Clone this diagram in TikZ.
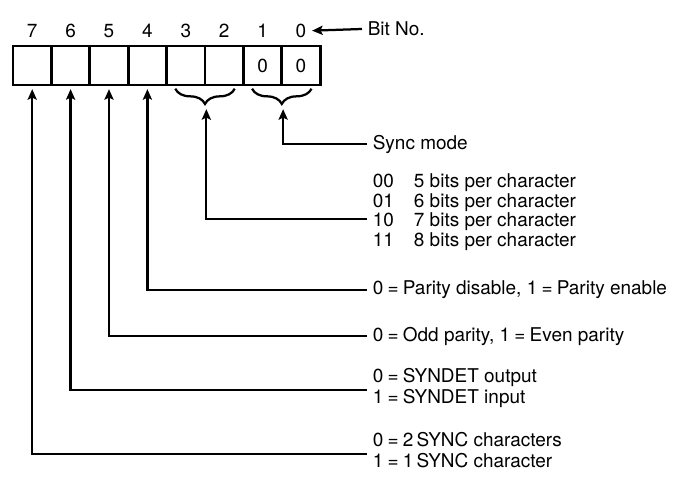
\documentclass[tikz,border=0pt]{standalone}
\usepackage{fontspec}
\setmainfont{TeX Gyre Heros}
\usetikzlibrary{arrows.meta,decorations.pathreplacing,positioning}

\begin{document}
\begin{tikzpicture}[>={Stealth[length=7.5pt,width=6.5pt,inset=1.5pt]}, font=\fontsize{13.5}{14.2}\selectfont, line width=1.6pt,
		cell/.style={draw, line width=1.9pt, minimum width=0.96cm, minimum height=0.975cm, inner sep=0pt},
		desc/.style={anchor=west, align=left},
		brc/.style={decorate, decoration={brace, mirror, amplitude=0.38cm, raise=0.06cm}},
		conn/.style={->, shorten >=2pt}]
		\useasboundingbox (0,0) rectangle (17.15,12.175);
		% register, bit 7 on the left
		\foreach \b in {7,...,0}
			\node[cell] (c\b) at ({0.805+(7-\b)*0.96},10.5375) {};
		\foreach \b in {7,...,0}
			\node (n\b) at ([yshift=0.35cm]c\b.north) {\b};
		\node (v1) at (c1) {0};
		\node (v0) at (c0) {0};
		\node[desc] (bitno) at (9.05,11.45) {Bit No.};
		\draw[->] (bitno.west) -- (n0.east);
		% braces under bits 3-2 and 1-0
		\draw[brc] ([xshift=0.25cm]c3.south west) -- ([xshift=-0.25cm]c2.south east);
		\draw[brc] ([xshift=0.25cm]c1.south west) -- ([xshift=-0.25cm]c0.south east);
		\coordinate (b32) at ([yshift=-0.5cm]c3.south east);
		\coordinate (b10) at ([yshift=-0.5cm]c1.south east);
		% descriptions
		\node[desc] (tsync) at (9.175,8.575) {Sync mode};
		\node[desc] (tchar) at (9.175,6.85) {\begin{tabular}{@{}l@{\hspace{0.5cm}}l@{}}
			00 & 5 bits per character\\
			01 & 6 bits per character\\
			10 & 7 bits per character\\
			11 & 8 bits per character
		\end{tabular}};
		\node[desc] (tpen) at (9.175,4.925) {0\:=\:Parity disable, 1\:=\:Parity enable};
		\node[desc] (tpodd) at (9.175,3.775) {0\:=\:Odd parity, 1\:=\:Even parity};
		\node[desc] (tsyn) at (9.175,2.475) {0\:=\:SYNDET output\\[1pt]1\:=\:SYNDET input};
		\node[desc] (tsc) at (9.175,0.925) {0\:=\:2\,SYNC characters\\[1pt]1\:=\:1\,SYNC character};
		% connectors
		\draw[conn] (tsync.west) -| (b10);
		\draw[conn] ([yshift=-0.15cm]tchar.west) -| (b32);
		\draw[conn] (tpen.west) -| (c4.south);
		\draw[conn] (tpodd.west) -| (c5.south);
		\draw[conn] ([yshift=-0.05cm]tsyn.west) -| (c6.south);
		\draw[conn] ([yshift=-0.1cm]tsc.west) -| (c7.south);
	\end{tikzpicture}
\end{document}
